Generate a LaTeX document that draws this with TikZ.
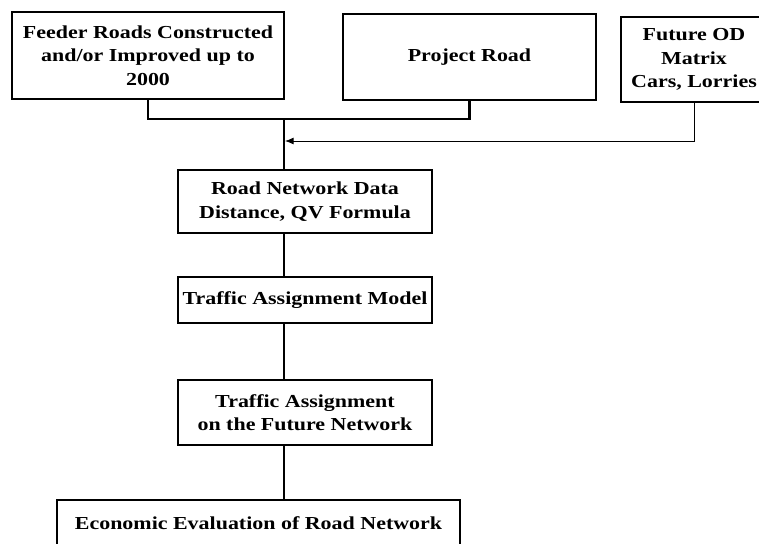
\documentclass[tikz,border=0pt]{standalone}
\usepackage{fontspec}
\setmainfont{Liberation Serif}[FakeStretch=1.2]
\usetikzlibrary{arrows.meta,positioning}
\tikzset{
  blk/.style={draw,line width=1.2pt,align=center,inner sep=0pt,
    font=\bfseries\fontsize{18.3}{23.5}\selectfont},
  lnk/.style={line width=2.2pt},
  arw/.style={line width=0.8pt,-{Latex[length=3mm,width=2.4mm]}},
}
\begin{document}
\begin{tikzpicture}[x=1pt,y=-1pt]
  \clip (0,0) rectangle (759,543);
  % top row
  \node[blk,minimum width=272pt,minimum height=87pt] (feed) at (148,55.5)
    {Feeder Roads Constructed\\and/or Improved up to\\2000};
  \node[blk,minimum width=253pt,minimum height=86pt] (proj) at (469.5,57) {Project Road};
  \node[blk,minimum width=146pt,minimum height=85pt] (od) at (694,59.5)
    {Future OD\\Matrix\\Cars, Lorries};
  % main column
  \node[blk,minimum width=254pt,minimum height=63pt] (net) at (305,201.5)
    {Road Network Data\\Distance, QV Formula};
  \node[blk,minimum width=254pt,minimum height=46pt] (mod) at (305,300) {Traffic Assignment Model};
  \node[blk,minimum width=254pt,minimum height=65pt] (asg) at (305,412.5)
    {Traffic Assignment\\on the Future Network};
  \node[blk,minimum width=403pt,minimum height=46pt] (eco) at (258.5,523)
    {Economic Evaluation of Road Network};
  \coordinate (jn) at (284,119);
  \coordinate (ja) at (285,141);
  \draw[lnk] (feed.south) |- (jn) -| (proj.south);
  \draw[lnk] (jn) -- (jn |- net.north);
  \draw[arw] (od.south) |- (ja);
  \draw[lnk] (jn |- net.south) -- (jn |- mod.north);
  \draw[lnk] (jn |- mod.south) -- (jn |- asg.north);
  \draw[lnk] (jn |- asg.south) -- (jn |- eco.north);
\end{tikzpicture}
\end{document}
